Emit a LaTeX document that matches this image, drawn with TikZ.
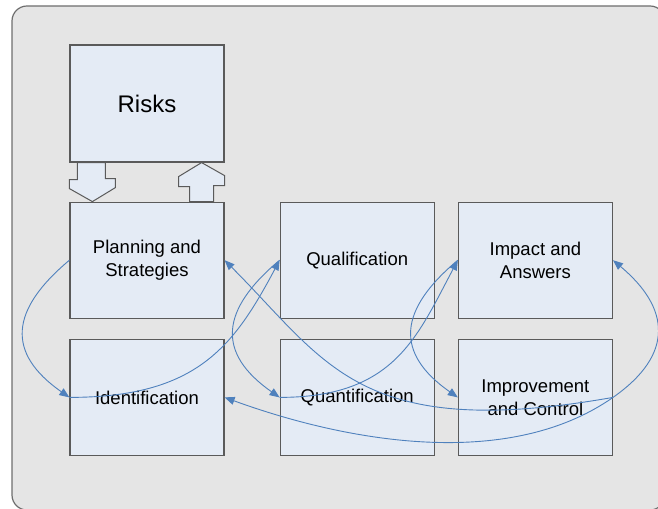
\documentclass[tikz,border=0pt]{standalone}
\usepackage{fontspec}
\setmainfont{Liberation Sans}
\usetikzlibrary{arrows.meta,positioning,calc}
\definecolor{bgfill}{HTML}{E5E5E5}
\definecolor{bgline}{HTML}{6E6E6E}
\definecolor{boxfill}{HTML}{E4EBF5}
\definecolor{boxline}{HTML}{5A5A5A}
\definecolor{flow}{HTML}{4F81BD}

\begin{document}
\begin{tikzpicture}[
  x=1bp,y=1bp,
  font=\fontsize{18.5bp}{23bp}\selectfont,
  >={Triangle[length=10bp,width=8bp]},
  node distance=20bp and 55bp,
  box/.style={draw=boxline,fill=boxfill,line width=1.2bp,minimum width=154bp,
              minimum height=116bp,align=center,inner sep=2bp},
  fat/.style={draw=boxline,fill=boxfill,line width=1bp,line join=miter},
  flowline/.style={draw=flow,line width=0.9bp,->}
]
\clip (0,0) rectangle (658,509);
% Hintergrund
\draw[draw=bgline,fill=bgfill,line width=1.2bp,rounded corners=15bp]
  (12,-1) rectangle (665,503);

% Kaesten
\node[box,minimum height=117bp,font=\fontsize{24bp}{28bp}\selectfont] (risks) at (147,405.5) {Risks};
\node[box,below=39bp of risks] (plan) {Planning and\\Strategies};
\node[box,below=of plan] (ident) {Identification};
\node[box,right=of plan] (qual) {Qualification};
\node[box,below=of qual] (quant) {Quantification};
\node[box,right=23bp of qual] (impact) {Impact and\\Answers};
\node[box,below=of impact] (improve) {Improvement\\and Control};

% Blockpfeile zwischen Risks und Planning
\draw[fat] ($(risks.south west)+(8,0)$) -- ++(28,0) -- ++(0,-16) -- ++(10,0) -- ++(0,-9)
  -- ($(plan.north west)+(23,0)$) -- ++(-23,13) -- ++(0,9) -- ++(8,0) -- cycle;
\draw[fat] ($(plan.north east)+(-35,0)$) -- ++(0,15) -- ++(-11,0) -- ++(0,10)
  -- ($(risks.south east)+(-23,0)$) -- ++(23,-13) -- ++(0,-10) -- ++(-11,0)
  -- ($(plan.north east)+(-11,0)$) -- cycle;

% Verbindungen
\draw[flowline] (plan.west) to[out=220,in=145,looseness=1.45] (ident.west);
\draw[flowline] (ident.west) to[out=0,in=242,out looseness=1.3] (qual.west);
\draw[flowline] (qual.west) to[out=220,in=145,looseness=1.45] (quant.west);
\draw[flowline] (quant.west) to[out=0,in=242,out looseness=1.3] (impact.west);
\draw[flowline] (impact.west) to[out=220,in=145,looseness=1.45] (improve.west);
\draw[flowline] (improve.east) to[out=35,in=-40,looseness=1.4] (impact.east);
\draw[flowline] (improve.east) to[out=190,in=-45,out looseness=1.6,in looseness=0.9] (plan.east);
\draw[flowline] (improve.east) to[out=215,in=-20,looseness=0.85] (ident.east);
\end{tikzpicture}
\end{document}
